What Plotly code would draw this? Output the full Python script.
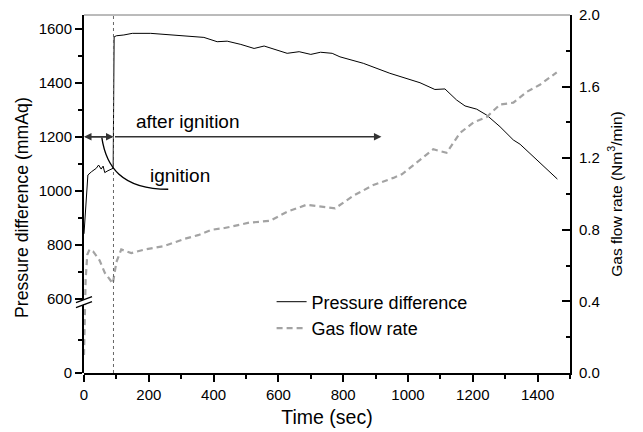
import plotly.graph_objects as go

# ---------------- data ----------------
time_p = [0, 3, 7, 12, 23, 38, 45, 53, 59, 64, 74, 90, 93, 100, 123, 149, 206, 267, 340, 370,
          411, 442, 484, 525, 556, 627, 664, 700, 730, 766, 790, 815, 862, 944, 1037, 1083,
          1114, 1150, 1176, 1212, 1243, 1284, 1325, 1346, 1387, 1407, 1423, 1440, 1461]
pressure = [840, 900, 1003, 1058, 1070, 1083, 1095, 1080, 1091, 1067, 1074, 1083, 1570, 1574,
            1577, 1583, 1583, 1577, 1570, 1568, 1552, 1554, 1542, 1527, 1536, 1509, 1515,
            1505, 1513, 1509, 1496, 1488, 1472, 1435, 1400, 1375, 1377, 1336, 1314, 1302,
            1280, 1237, 1188, 1172, 1126, 1101, 1083, 1065, 1043]

time_g = [0, 2, 5, 10, 17, 28, 48, 64, 84, 89, 100, 115, 146, 187, 249, 311, 352, 393, 434,
          481, 510, 574, 626, 687, 728, 775, 831, 893, 955, 981, 1016, 1078, 1119, 1160, 1202,
          1243, 1284, 1325, 1366, 1407, 1459]
gas = [0.10, 0.30, 0.52, 0.66, 0.69, 0.68, 0.63, 0.56, 0.51, 0.50, 0.62, 0.69, 0.67, 0.69,
       0.71, 0.75, 0.77, 0.80, 0.81, 0.83, 0.84, 0.85, 0.90, 0.94, 0.93, 0.92, 0.99, 1.05,
       1.09, 1.11, 1.16, 1.25, 1.23, 1.34, 1.40, 1.43, 1.50, 1.51, 1.57, 1.61, 1.68]

ignition_time = 91
arrow_level = 1200
after_end = 918
x_ticks = [0, 200, 400, 600, 800, 1000, 1200, 1400]
p_ticks = [600, 800, 1000, 1200, 1400, 1600]
p_low_ticks = [0]
g_ticks = [0.0, 0.4, 0.8, 1.2, 1.6, 2.0]

FONT = "Liberation Sans, Arial, sans-serif"
W, H = 643, 432
ML, MR, MT, MB = 84, 73, 15, 58.5
BREAK_FRAC = 74.5 / 358.5

fig = go.Figure()
fig.add_trace(go.Scatter(x=time_p, y=pressure, mode="lines", name="Pressure difference",
                         line=dict(color="black", width=1), xaxis="x", yaxis="y"))
fig.add_trace(go.Scatter(x=time_g, y=gas, mode="lines", name="Gas flow rate",
                         line=dict(color="#a3a3a3", width=2.2, dash="6px,4px"),
                         xaxis="x", yaxis="y2"))
# empty trace so that the lower (broken) segment of the pressure axis is drawn
fig.add_trace(go.Scatter(x=[], y=[], mode="lines", showlegend=False, hoverinfo="skip",
                         xaxis="x", yaxis="y3"))

axis_common = dict(showgrid=False, zeroline=False, showline=True, linecolor="black",
                   linewidth=2, tickcolor="black", tickwidth=1.5, automargin=False,
                   tickfont=dict(family=FONT, size=15, color="black"))

fig.update_layout(
    width=W, height=H,
    margin=dict(l=ML, r=MR, t=MT, b=MB),
    paper_bgcolor="white", plot_bgcolor="rgba(0,0,0,0)",
    font=dict(family=FONT, size=18, color="black"),
    xaxis=dict(range=[0, 1500], anchor="y2", tickvals=x_ticks, ticks="outside", ticklen=7,
               minor=dict(dtick=100, tick0=0, ticks="outside", ticklen=4, tickcolor="black"),
               title=dict(text="Time (sec)", font=dict(size=19.5), standoff=8),
               **axis_common),
    yaxis=dict(domain=[BREAK_FRAC, 1], range=[600, 1651], anchor="x", side="left",
               tickvals=p_ticks, ticks="outside", ticklen=7,
               minor=dict(dtick=100, tick0=0, ticks="outside", ticklen=4, tickcolor="black"),
               **axis_common),
    yaxis3=dict(domain=[0, BREAK_FRAC], range=[0, 600], anchor="x", side="left",
                tickvals=p_low_ticks, ticks="outside", ticklen=7,
                minor=dict(tickvals=[270], ticks="outside", ticklen=4, tickcolor="black"),
                **axis_common),
    yaxis2=dict(domain=[0, 1], range=[0, 2], anchor="x", side="right",
                tickvals=g_ticks, tickformat=".1f", ticks="inside", ticklen=8,
                minor=dict(dtick=0.2, tick0=0, ticks="inside", ticklen=4, tickcolor="black"),
                title=dict(text="Gas flow rate (Nm<sup>3</sup>/min)", font=dict(size=15.5), standoff=12),
                ticklabelstandoff=4,
                **axis_common),
    legend=dict(x=0.386, y=0.25, xanchor="left", yanchor="top", bgcolor="rgba(0,0,0,0)",
                font=dict(family=FONT, size=18), tracegroupgap=0),
    showlegend=True,
)

# left axis title (spans the broken axis)
fig.add_annotation(text="Pressure difference (mmAq)", xref="paper", yref="paper",
                   x=-0.128, y=0.463, xanchor="center", yanchor="middle", textangle=-90,
                   showarrow=False, font=dict(family=FONT, size=17.7, color="black"))

shapes = []
# top frame line
shapes.append(dict(type="line", xref="paper", yref="paper", x0=0, x1=1, y0=1, y1=1,
                   line=dict(color="#777777", width=1)))
# ignition dotted line
shapes.append(dict(type="line", xref="x", yref="paper", x0=ignition_time, x1=ignition_time,
                   y0=0, y1=1, line=dict(color="#666666", width=1, dash="dot")))
# ignition curve
shapes.append(dict(type="path", xref="x", yref="y",
                   path="M 55,1197 C 68,1090 115,1005 260,1005",
                   line=dict(color="black", width=1.4)))
# axis break marker
px = lambda v: (v - ML) / (W - ML - MR)
py = lambda v: (H - MB - v) / (H - MT - MB)
shapes.append(dict(type="path", xref="paper", yref="paper",
                   path=f"M {px(76)},{py(303)} L {px(92)},{py(297)} L {px(92)},{py(302)} L {px(76)},{py(308)} Z",
                   fillcolor="white", line=dict(width=0), layer="above"))
for y0, y1 in [(303, 297), (308, 302)]:
    shapes.append(dict(type="line", xref="paper", yref="paper", x0=px(76), x1=px(92),
                       y0=py(y0), y1=py(y1), line=dict(color="black", width=1.3), layer="above"))
fig.update_layout(shapes=shapes)

# arrows
arrow_style = dict(showarrow=True, arrowhead=2, arrowsize=1, arrowwidth=1.5,
                   arrowcolor="#333333", text="", xref="x", yref="y", axref="x", ayref="y")
fig.add_annotation(x=after_end, y=arrow_level, ax=ignition_time, ay=arrow_level, **arrow_style)
fig.add_annotation(x=ignition_time, y=arrow_level, ax=0, ay=arrow_level, **arrow_style)
fig.add_annotation(x=0, y=arrow_level, ax=ignition_time, ay=arrow_level, **arrow_style)

fig.add_annotation(text="after ignition", x=320, y=1258, xref="x", yref="y", showarrow=False,
                   font=dict(family=FONT, size=19, color="black"))
fig.add_annotation(text="ignition", x=295, y=1055, xref="x", yref="y", showarrow=False,
                   font=dict(family=FONT, size=19, color="black"))

fig.write_html("out.html")
